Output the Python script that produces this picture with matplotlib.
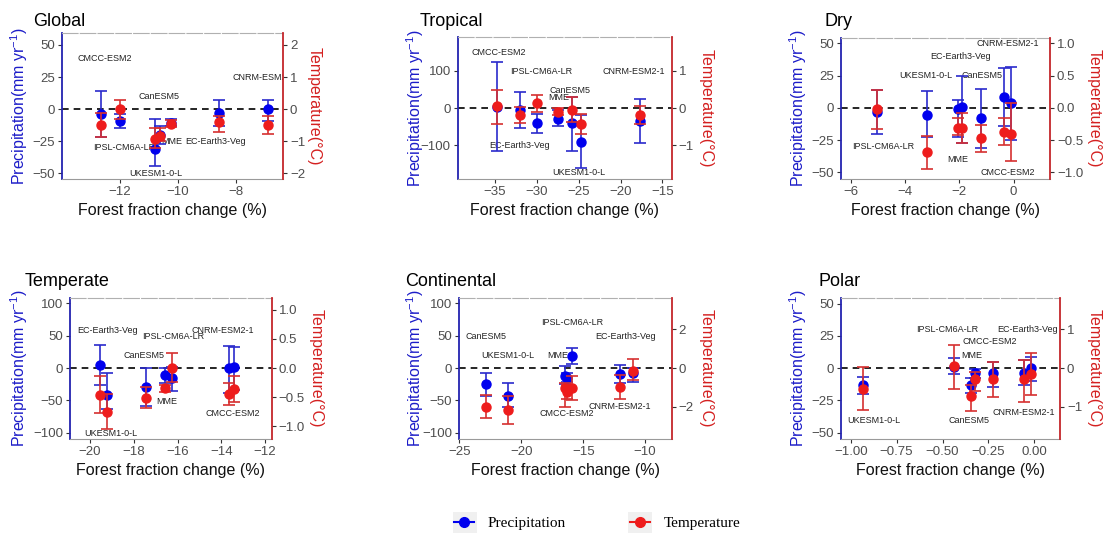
import matplotlib
matplotlib.use("Agg")
import matplotlib.pyplot as plt
import numpy as np
from matplotlib.lines import Line2D
from matplotlib.patches import Rectangle

plt.rcParams['font.family'] = ['Liberation Sans', 'DejaVu Sans']
plt.rcParams['mathtext.fontset'] = 'custom'
plt.rcParams['mathtext.rm'] = 'Liberation Sans'

# ---- data ----
# Global
glob_x = [-12.65, -12.0, -10.8, -10.62, -10.25, -8.6, -6.9]
glob_p = [-4, -9, -31, -20, -11, -3, 0]
glob_p_lo = [-22, -15, -44, -27, -13, -13, -9]
glob_p_hi = [14, -4, -8, -13, -8, 7.5, 7.5]
glob_t = [-0.5, 0.0, -0.92, -0.84, -0.45, -0.39, -0.5]
glob_t_lo = [-0.88, -0.32, -1.2, -1.0, -0.55, -0.72, -0.76]
glob_t_hi = [-0.13, 0.3, -0.6, -0.6, -0.35, -0.22, -0.22]
glob_names = ['CMCC-ESM2', 'CanESM5', 'CNRM-ESM2-1', 'IPSL-CM6A-LR', 'MME', 'EC-Earth3-Veg', 'UKESM1-0-L']
glob_lab_x = [-12.51, -10.65, -7.06, -11.85, -10.2, -8.71, -10.77]
glob_lab_y = [39.7, 9.5, 24.7, -29.9, -25.5, -25.5, -50]

# Tropical
trop_x = [-34.72, -31.94, -29.96, -27.46, -25.79, -24.68, -17.66]
trop_p = [3.6, -5.4, -41, -30, -41, -92, -35]
trop_p_lo = [-115, -53, -66, -48, -116, -162, -93]
trop_p_hi = [125, 44, -17, -5, 30, -19, 23]
trop_t = [0.05, -0.19, 0.13, -0.10, -0.04, -0.43, -0.19]
trop_t_lo = [-0.43, -0.41, -0.10, -0.19, -0.37, -0.70, -0.43]
trop_t_hi = [0.48, 0.04, 0.35, -0.01, 0.29, -0.17, 0.05]
trop_names = ['CMCC-ESM2', 'IPSL-CM6A-LR', 'CNRM-ESM2-1', 'CanESM5', 'MME', 'EC-Earth3-Veg', 'UKESM1-0-L']
trop_lab_x = [-34.52, -29.44, -18.45, -26.07, -27.38, -32.02, -25.0]
trop_lab_y = [149, 99.6, 99.6, 48.4, 28.7, -102, -173]

# Dry
dry_x = [-5.02, -3.2, -2.04, -1.9, -1.22, -0.34, -0.1]
dry_p = [-3.6, -5.2, -1, 0.5, -7.7, 8.8, 4.1]
dry_p_lo = [-20.4, -23, -22.7, -27.4, -31, -14, -24.8]
dry_p_hi = [14, 13.4, 5.7, 24.8, 15, 30.7, 32]
dry_t = [-0.016, -0.69, -0.32, -0.31, -0.47, -0.37, -0.40]
dry_t_lo = [-0.33, -0.95, -0.42, -0.55, -0.69, -0.58, -0.83]
dry_t_hi = [0.28, -0.44, -0.16, -0.08, -0.26, -0.16, 0.07]
dry_names = ['CNRM-ESM2-1', 'EC-Earth3-Veg', 'UKESM1-0-L', 'CanESM5', 'IPSL-CM6A-LR', 'MME', 'CMCC-ESM2']
dry_lab_x = [-0.22, -1.96, -3.23, -1.18, -4.8, -2.06, -0.2]
dry_lab_y = [50.1, 39.8, 25, 25, -30, -40.3, -50.6]

# Temperate
temp_x = [-19.54, -19.23, -17.46, -16.57, -16.26, -13.65, -13.43]
temp_p = [5.2, -41, -28.9, -10.8, -16, 0, 1]
temp_p_lo = [-26, -64, -58, -23.7, -35, -39, -34]
temp_p_hi = [35.6, -8, 0, 0, 2, 34, 32]
temp_t = [-0.46, -0.75, -0.51, -0.35, 0.0, -0.45, -0.36]
temp_t_lo = [-0.78, -1.04, -0.69, -0.41, -0.24, -0.64, -0.58]
temp_t_hi = [-0.14, -0.44, -0.32, -0.29, 0.25, -0.25, -0.14]
temp_names = ['EC-Earth3-Veg', 'IPSL-CM6A-LR', 'CNRM-ESM2-1', 'CanESM5', 'MME', 'CMCC-ESM2', 'UKESM1-0-L']
temp_lab_x = [-19.18, -16.18, -13.94, -17.52, -16.5, -13.48, -19.06]
temp_lab_y = [58.8, 49.5, 58.8, 19, -52, -71, -101]

# Continental
cont_x = [-22.83, -21.05, -16.5, -16.28, -15.94, -12.0, -11.02]
cont_p = [-25, -43, -12.4, -16, 18.6, -9.8, -8.2]
cont_p_lo = [-43, -60, -25, -22, 6, -22.7, -21]
cont_p_hi = [-8.2, -22.7, 3, -8, 30.4, 4.6, 0]
cont_t = [-1.99, -2.16, -1.05, -1.22, -1.05, -0.96, -0.15]
cont_t_lo = [-2.59, -2.9, -1.99, -1.6, -1.65, -1.62, -0.62]
cont_t_hi = [-1.39, -1.44, -0.76, -0.9, -0.41, -0.36, 0.45]
cont_names = ['CanESM5', 'UKESM1-0-L', 'MME', 'IPSL-CM6A-LR', 'EC-Earth3-Veg', 'CMCC-ESM2', 'CNRM-ESM2-1']
cont_lab_x = [-22.83, -21.1, -17.08, -15.88, -11.6, -16.34, -12.06]
cont_lab_y = [49.5, 19, 19, 70.6, 49.5, -71, -59.8]

# Polar
pol_x = [-0.935, -0.436, -0.345, -0.325, -0.225, -0.058, -0.018]
pol_p = [-13.2, 1, -13.2, -4.1, -4.1, -4.1, -0.3]
pol_p_lo = [-20.4, -4.7, -19, -8, -14.5, -13.2, -9.8]
pol_p_hi = [-6.7, 7.5, -8, -1, 4.9, 6.2, 8.8]
pol_t = [-0.53, 0.05, -0.72, -0.29, -0.28, -0.29, -0.16]
pol_t_lo = [-1.09, -0.53, -1.1, -0.6, -0.74, -0.87, -0.70]
pol_t_hi = [0.02, 0.59, -0.44, -0.09, 0.16, 0.21, 0.38]
pol_names = ['IPSL-CM6A-LR', 'EC-Earth3-Veg', 'CMCC-ESM2', 'MME', 'UKESM1-0-L', 'CanESM5', 'CNRM-ESM2-1']
pol_lab_x = [-0.476, -0.036, -0.24, -0.34, -0.876, -0.358, -0.058]
pol_lab_y = [30, 30, 20.4, 9.6, -41, -40.3, -34.6]

# ---- figure ----
W, H = 1105, 533
fig = plt.figure(figsize=(W / 100, H / 100), dpi=100)

BLUE = '#0000ee'
BLUE_BAR = '#2a2acc'
RED = '#ee1c1c'
RED_BAR = '#d63030'
TICKC = '#4d4d4d'


def minus(s):
    return s.replace('-', '\u2212')


def panel(box, title, title_pos, ylab_x, xlab_y, x, p, p_lo, p_hi, t, t_lo, t_hi,
          names, lab_x, lab_y, xlim, ylim, factor, xt, yt, tt, xfmt, tfmt):
    l, r, top, b = box
    ax = fig.add_axes([l / W, 1 - b / H, (r - l) / W, (b - top) / H])
    ax2 = ax.twinx()

    x = np.array(x); p = np.array(p); t = np.array(t)
    ax.axhline(0, color='black', ls=(0, (4, 3)), lw=1.2, zorder=1.5)
    for nm, lx, ly in zip(names, lab_x, lab_y):
        ax.text(lx, ly, nm, fontsize=6.5, ha='center', va='center', color='#222222',
                clip_on=True, zorder=2)
    ax.errorbar(x, p, yerr=[p - np.array(p_lo), np.array(p_hi) - p], fmt='o',
                color=BLUE_BAR, mfc=BLUE, mec=BLUE, ms=6.5, capsize=4,
                elinewidth=1.2, capthick=1.2, zorder=3)
    ax2.errorbar(x, t, yerr=[t - np.array(t_lo), np.array(t_hi) - t], fmt='o',
                 color=RED_BAR, mfc=RED, mec=RED, ms=6.5, capsize=4,
                 elinewidth=1.2, capthick=1.2, zorder=3)

    ax.set_xlim(xlim)
    ax.set_ylim(ylim)
    ax2.set_ylim(ylim[0] / factor, ylim[1] / factor)
    ax.set_xticks(xt)
    ax.set_xticklabels([minus(xfmt % v) for v in xt])
    ax.set_yticks(yt)
    ax.set_yticklabels([minus('%g' % v) for v in yt])
    ax2.set_yticks(tt)
    ax2.set_yticklabels([minus(tfmt % v) for v in tt])

    for a in (ax, ax2):
        a.tick_params(labelsize=9.5, labelcolor=TICKC, length=3, pad=2, color='#333333')
    ax.spines['right'].set_visible(False)
    ax.spines['left'].set_color('#2323b0')
    ax.spines['left'].set_linewidth(1.3)
    ax.spines['bottom'].set_color('#9a9a9a')
    ax.spines['bottom'].set_linewidth(0.8)
    ax.spines['top'].set_color('#b0b0b0')
    ax.spines['top'].set_linestyle((0, (14, 2)))
    for s in ('left', 'top', 'bottom'):
        ax2.spines[s].set_visible(False)
    ax2.spines['right'].set_color('#c4262b')
    ax2.spines['right'].set_linewidth(1.3)

    fig.text(title_pos[0] / W, 1 - title_pos[1] / H, title, fontsize=13, va='baseline')
    ymid = 1 - (top + b) / 2 / H
    fig.text(ylab_x[0] / W, ymid, r'Precipitation(mm yr$^{\mathrm{-1}}$)', rotation=90,
             ha='center', va='center', color='#1c1cc8', fontsize=11.5)
    fig.text(ylab_x[1] / W, ymid, 'Temperature(\u00b0C)', rotation=270,
             ha='center', va='center', color='#d42020', fontsize=11.5)
    fig.text((l + r) / 2 / W, 1 - xlab_y / H, 'Forest fraction change (%)',
             ha='center', va='center', fontsize=11.5, color='#111111')
    return ax


panel((62, 283, 33.3, 179), 'Global', (33, 26.5), (19, 314), 210,
      glob_x, glob_p, glob_p_lo, glob_p_hi, glob_t, glob_t_lo, glob_t_hi,
      glob_names, glob_lab_x, glob_lab_y, (-13.97, -6.4), (-54.4, 59.1), 25,
      [-12, -10, -8], [-50, -25, 0, 25, 50], [-2, -1, 0, 1, 2], '%g', '%g')

panel((457.7, 671.7, 36.7, 179), 'Tropical', (420, 26.5), (415, 706), 210,
      trop_x, trop_p, trop_p_lo, trop_p_hi, trop_t, trop_t_lo, trop_t_hi,
      trop_names, trop_lab_x, trop_lab_y, (-39.4, -13.9), (-191, 192), 100,
      [-35, -30, -25, -20, -15], [-100, 0, 100], [-1, 0, 1], '%g', '%g')

panel((841, 1050, 37.7, 179), 'Dry', (825, 26.5), (798.3, 1094), 210,
      dry_x, dry_p, dry_p_lo, dry_p_hi, dry_t, dry_t_lo, dry_t_hi,
      dry_names, dry_lab_x, dry_lab_y, (-6.36, 1.34), (-55.3, 54.5), 50,
      [-6, -4, -2, 0], [-50, -25, 0, 25, 50], [-1.0, -0.5, 0.0, 0.5, 1.0], '%g', '%.1f')

panel((70, 271.7, 297.7, 439), 'Temperate', (25, 286), (19, 316), 470,
      temp_x, temp_p, temp_p_lo, temp_p_hi, temp_t, temp_t_lo, temp_t_hi,
      temp_names, temp_lab_x, temp_lab_y, (-20.92, -11.69), (-109.8, 108.8), 90,
      [-20, -18, -16, -14, -12], [-100, -50, 0, 50, 100], [-1.0, -0.5, 0.0, 0.5, 1.0],
      '%g', '%.1f')

panel((459.3, 671.7, 297.7, 439), 'Continental', (405, 286), (415, 706), 470,
      cont_x, cont_p, cont_p_lo, cont_p_hi, cont_t, cont_t_lo, cont_t_hi,
      cont_names, cont_lab_x, cont_lab_y, (-24.9, -7.86), (-109.8, 108.8), 30,
      [-25, -20, -15, -10], [-100, -50, 0, 50, 100], [-2, 0, 2], '%g', '%g')

panel((841, 1060, 297.7, 439), 'Polar', (818, 286), (798.3, 1094), 470,
      pol_x, pol_p, pol_p_lo, pol_p_hi, pol_t, pol_t_lo, pol_t_hi,
      pol_names, pol_lab_x, pol_lab_y, (-1.053, 0.14), (-55, 54.5), 30,
      [-1.0, -0.75, -0.5, -0.25, 0.0], [-50, -25, 0, 25, 50], [-1, 0, 1], '%.2f', '%g')

# legend key backgrounds (ggplot style grey keys)
for kx in (453, 628):
    fig.patches.append(Rectangle((kx / W, 0), 24 / W, 21 / H, transform=fig.transFigure,
                                 facecolor='#f0f0f0', edgecolor='none', zorder=0))

handles = [Line2D([0], [0], color=BLUE, marker='o', ms=7, lw=1.5),
           Line2D([0], [0], color=RED, marker='o', ms=7, lw=1.5)]
fig.legend(handles, ['Precipitation', 'Temperature'], loc='center',
           bbox_to_anchor=(597 / W, 1 - 523 / H), ncol=2, frameon=False,
           prop={'family': 'Liberation Serif', 'size': 11},
           handlelength=1.3, handletextpad=0.9, columnspacing=4.2)

fig.savefig('out.png', dpi=100)
